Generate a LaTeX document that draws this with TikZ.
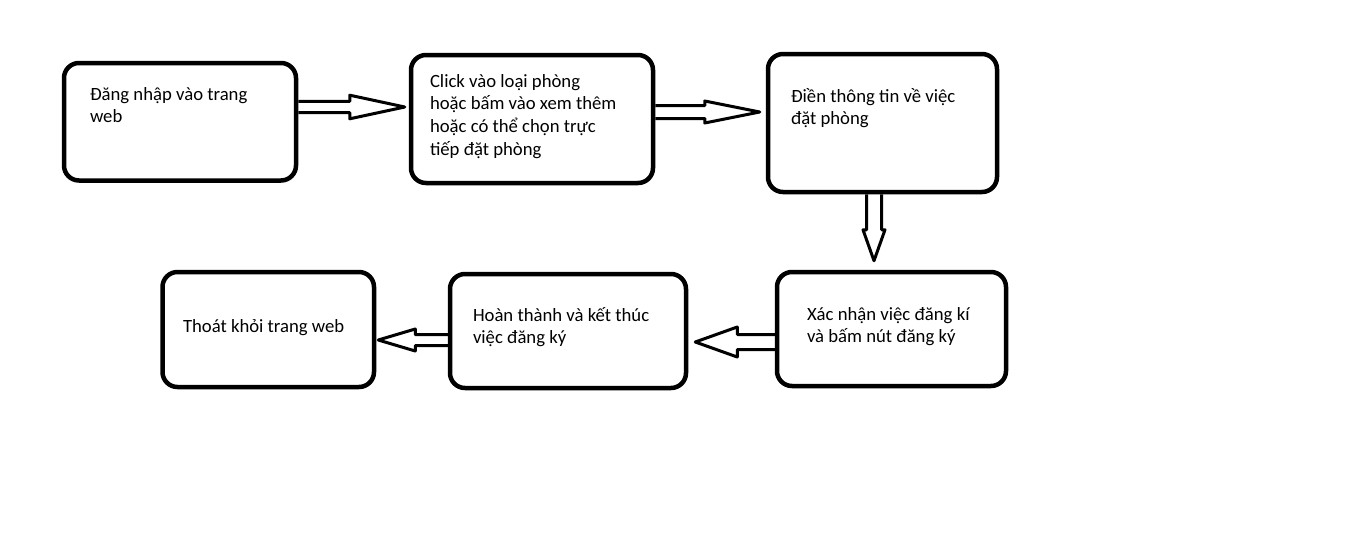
\documentclass[tikz,border=0pt]{standalone}
\usepackage{fontspec}
\setmainfont{Carlito}
\usetikzlibrary{calc}

% text of a box: width, height, left pad, first baseline from top, lines
\newcommand{\boxtext}[5]{\parbox[c][#2pt][t]{#1pt}{\vspace*{\dimexpr#4pt-20pt\relax}\raggedright\leftskip=#3pt\rule{0pt}{20pt}#5}}
% hollow block arrow: start, tip, shaft half width, head half width, head length
\newcommand{\hollowarrow}[5]{%
  \draw[blockarrow] ($(#1)!#3pt!90:(#2)$) -- ($(#2)!#5pt!(#1)!#3pt!90:(#2)$)
    -- ($(#2)!#5pt!(#1)!#4pt!90:(#2)$) -- (#2) -- ($(#2)!#5pt!(#1)!#4pt!-90:(#2)$)
    -- ($(#2)!#5pt!(#1)!#3pt!-90:(#2)$) -- ($(#1)!#3pt!-90:(#2)$);}

\begin{document}
\begin{tikzpicture}[x=1pt, y=-1pt,
    stepbox/.style={draw, line width=4.5pt, rounded corners=15pt, inner sep=0pt,
      font=\fontsize{18.7pt}{22.8pt}\selectfont},
    blockarrow/.style={draw, line width=3pt, line join=round}]
    \useasboundingbox (0,0) rectangle (1360,544);
    %Nodes
    \node[stepbox] (login) at (180,121.75) {\boxtext{232}{117.5}{26}{37}{Đăng nhập vào trang\\web}};
    \node[stepbox] (choose) at (532,119) {\boxtext{242}{128}{19}{32}{Click vào loại phòng\\hoặc bấm vào xem thêm\\hoặc có thể chọn trực\\tiếp đặt phòng}};
    \node[stepbox] (fill) at (882.5,123) {\boxtext{229}{138}{23}{48}{Điền thông tin về việc\\đặt phòng}};
    \node[stepbox] (confirm) at (891.5,329) {\boxtext{229}{114}{30}{48}{Xác nhận việc đăng kí\\và bấm nút đăng ký}};
    \node[stepbox] (finish) at (568,331) {\boxtext{236}{114}{23}{47}{Hoàn thành và kết thúc\\việc đăng ký}};
    \node[stepbox] (exit) at (268.25,329.5) {\boxtext{211.5}{115}{20.5}{60}{Thoát khỏi trang web}};

    % %Arrows
    \coordinate (a1s) at ([yshift=14.75pt]login.east);
    \coordinate (a1t) at ([xshift=-4pt, yshift=12pt]choose.west);
    \coordinate (a2s) at ([yshift=7pt]choose.east);
    \coordinate (a2t) at ([xshift=-6pt, yshift=11pt]fill.west);
    \coordinate (a3s) at ([xshift=-8.5pt]fill.south);
    \coordinate (a3t) at ([xshift=-17.5pt, yshift=9pt]confirm.north);
    \coordinate (a4s) at ([yshift=-13pt]confirm.west);
    \coordinate (a4t) at ([xshift=7pt, yshift=-11pt]finish.east);
    \coordinate (a5s) at ([yshift=-9pt]finish.west);
    \coordinate (a5t) at ([xshift=2pt, yshift=-10.5pt]exit.east);
    \hollowarrow{a1s}{a1t}{5.7}{11.8}{55}
    \hollowarrow{a2s}{a2t}{6.5}{11}{55}
    \hollowarrow{a3s}{a3t}{7.5}{11}{31}
    \hollowarrow{a4s}{a4t}{7.5}{15}{42}
    \hollowarrow{a5s}{a5t}{5.5}{11}{37}
\end{tikzpicture}
\end{document}
